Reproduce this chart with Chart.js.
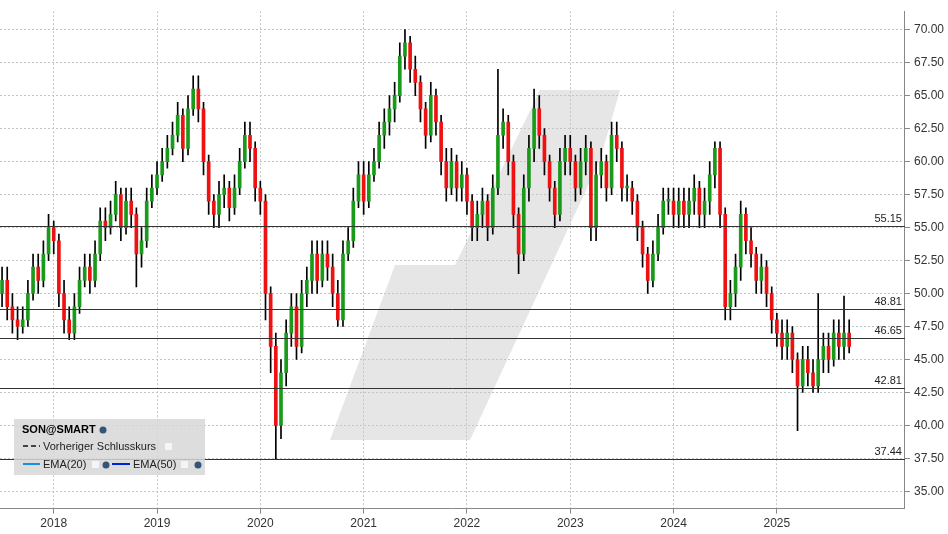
<!DOCTYPE html>
<html><head><meta charset="utf-8">
<script src="https://cdn.jsdelivr.net/npm/chart.js@4"></script>
<style>html,body{margin:0;padding:0;background:#fff}#w{width:948px;height:534px}</style>
</head><body><div id="w"><canvas id="c"></canvas></div>
<script>
const startYear = 2017.5, step = 0.05;
const closes = [51,49,48,47.5,48,50,52,51,53,55,54,50,48,47,49,51,52,51,53,55.5,55,56,57.5,55,57,56,53,54,57,58,59,60,61,62,63.5,61,64,65.5,64,60,57,56,57.5,58,56.5,58,60,62,61,58,57,50,46,40,44,47,49,46,50,51,53,51,53,52,50,48,53,54,57,59,57,59,60,62,63,64,65,68,69,67,66,64,62,65,63,60,58,60,58,59,57,55,56,57,55,58,62,63,60,56,53,58,61,64,62,60,58,56,60,61,60,58,60,61,55,59,60,58,62,61,58,58,57,55,53,51,53,55,57,57,56,57,56,57,58,56,57,59,61,56,49,50,52,56,54,53,51,52,50,48,47,46,47,45,43,45,44,43,45,46,45,47,46,47,46];
const opens = [50,51,49,48,47.5,48,50,52,51,53,55,54,50,48,47,49,51,52,51,53,55.5,55,56,57.5,55,57,56,53,54,57,58,59,60,61,62,63.5,61,64,65.5,64,60,57,56,57.5,58,56.5,58,60,62,61,58,57,50,46,40,44,47,49,46,50,51,53,51,53,52,50,48,53,54,57,59,57,59,60,62,63,64,65,68,69,67,66,64,62,65,63,60,58,60,58,59,57,55,56,57,55,58,62,63,60,56,53,58,61,64,62,60,58,56,60,61,60,58,60,61,55,59,60,58,62,61,58,58,57,55,53,51,53,55,57,57,56,57,56,57,58,56,57,59,61,56,49,50,52,56,54,53,51,52,50,48,47,46,47,45,43,45,44,43,45,46,45,47,46,47];
const highs = [52,52,50,49,49,51,53,53,54,56,55.5,54.5,51,49,50,52,53,53,54,56.5,56.5,57,58.5,58,58,58,56.5,55,58,59,60,61,62,63,64.5,64,65,66.5,66.5,64.5,60.5,57.5,58.5,59,58.5,59,61,63,63,61.5,58.5,57.5,50.5,47,45,48,50,50,51,52,54,54,54,54,53,51,54,55,58,60,60,60,61,63,64,65,66,69,70,69.5,68,66.5,64.5,66,65.5,63.5,61,61,60.5,60,59.5,57.5,57,58,57.5,59,67,64,63.5,60.5,56.5,59,62,65.5,65,62.5,60.5,58.5,61,62,62,60.5,61,62,61.5,60,61,60.5,63,63,61.5,59,58.5,57.5,55.5,53.5,54,56,58,58,58,58,58,58,59,58.5,58,60,61.5,61.5,56.5,51,53,57,56.5,55,53.5,53,52.5,50.5,48.5,48,48,47.5,45.5,46,46,45,50,47,47,48,48,49.8,48];
const lows = [49,48,47,46.5,47,47.5,49.5,50,50.5,52.5,53,49,47,46.5,46.5,48.5,50.5,50,50.5,52.5,54,54.5,55.5,54,54.5,55,50.5,52,53.5,56.5,57.5,58.5,59.5,60.5,61.5,60,60.5,63.5,63,59,56,55,55,56.5,55.5,56,57.5,59.5,60,57,56,48,44,37.4,39,43,46,45,45.5,49,50,50,50.5,51,49,47.5,47.5,52.5,53.5,56.5,56,56.5,58.5,59.5,61,62,63,64.5,67,66,65,63,61,61.5,62,59,57,57.5,57,57,56,54,54,55,54,54.5,57.5,61,59,55,51.5,52.5,57,60,61,59,57,55,55.5,59,59,57,57.5,59,54,54,58,57,57.5,60,57,57,56,54,52,50,50.5,52.5,54.5,56,55,55,55,55,56,55,55,56,58,55,48,48,49,51,53,52,50,50,49,47,46,45,45,44,39.6,42.5,43,42.5,42.5,44,44,44.5,45,45,45.5];
const levels = [55.15, 48.81, 46.65, 42.81, 37.44];
const years = [2018,2019,2020,2021,2022,2023,2024,2025];

const xs = closes.map((_, i) => startYear + i * step);
const up = closes.map((c, i) => c >= opens[i]);
const wick = xs.map((x, i) => ({x, y: [lows[i], highs[i]]}));
const body = xs.map((x, i) => ({x, y: [Math.min(opens[i], closes[i]), Math.max(opens[i], closes[i]) + (opens[i]===closes[i]?0.15:0)]}));

const deco = {
  id: 'deco',
  beforeDatasetsDraw(ch) {
    const {ctx} = ch;
    ctx.save();
    ctx.fillStyle = 'rgba(200,200,200,0.45)';
    ctx.beginPath();
    ctx.moveTo(540,90); ctx.lineTo(620,90); ctx.lineTo(600,160); ctx.lineTo(470,440); ctx.lineTo(330,440); ctx.lineTo(395,265); ctx.lineTo(455,265); ctx.closePath(); ctx.fill();
    ctx.restore();
  },
  afterDatasetsDraw(ch) {
    const {ctx, chartArea: a, scales: {y}} = ch;
    ctx.save();
    ctx.font = '11px "Liberation Sans", Arial';
    ctx.textAlign = 'right'; ctx.textBaseline = 'bottom';
    levels.forEach(v => {
      const py = Math.round(y.getPixelForValue(v)) + 0.5;
      ctx.strokeStyle = '#333'; ctx.lineWidth = 1;
      ctx.beginPath(); ctx.moveTo(a.left, py); ctx.lineTo(a.right, py); ctx.stroke();
      ctx.fillStyle = '#222'; ctx.fillText(v.toFixed(2), a.right - 3, py - 2);
    });
    ctx.fillStyle = 'rgba(215,215,215,0.85)';
    ctx.fillRect(14, 419, 191, 56);
    ctx.textAlign = 'left'; ctx.textBaseline = 'middle';
    ctx.fillStyle = '#000'; ctx.font = 'bold 11px "Liberation Sans", Arial';
    ctx.fillText('SON@SMART', 22, 430);
    ctx.font = '11px "Liberation Sans", Arial';
    ctx.fillStyle = '#222';
    ctx.fillText('Vorheriger Schlusskurs', 43, 447);
    ctx.fillText('EMA(20)', 43, 465);
    ctx.fillText('EMA(50)', 133, 465);
    ctx.strokeStyle = '#444'; ctx.lineWidth = 2; ctx.setLineDash([5,3]);
    ctx.beginPath(); ctx.moveTo(23,446); ctx.lineTo(40,446); ctx.stroke();
    ctx.setLineDash([]);
    ctx.strokeStyle = '#1a8fe0'; ctx.beginPath(); ctx.moveTo(23,464); ctx.lineTo(40,464); ctx.stroke();
    ctx.strokeStyle = '#0022dd'; ctx.beginPath(); ctx.moveTo(112,464); ctx.lineTo(130,464); ctx.stroke();
    ctx.fillStyle = '#f4f4fa';
    [[165,443],[92,461],[181,461]].forEach(([bx,by]) => { ctx.fillRect(bx,by,7,7); });
    ctx.fillStyle = '#335577';
    [[103,430],[106,465],[198,465]].forEach(([bx,by]) => { ctx.beginPath(); ctx.arc(bx,by,3.5,0,Math.PI*2); ctx.fill(); });
    ctx.restore();
  }
};

new Chart(document.getElementById('c'), {
  type: 'bar',
  data: { datasets: [
    { data: wick, backgroundColor: '#000', barThickness: 1, grouped: false, order: 2 },
    { data: body, backgroundColor: up.map(u => u ? '#1a9a1a' : '#ee1111'), barThickness: 3, grouped: false, order: 1 }
  ]},
  options: {
    animation: false, responsive: true, maintainAspectRatio: false,
    layout: { padding: { left: 0, top: 2, right: 0, bottom: 0 } },
    plugins: { legend: { display: false }, tooltip: { enabled: false } },
    scales: {
      x: { type: 'linear', min: 2017.48, max: 2025.76 + 0.48, offset: false,
        afterBuildTicks: s => { s.ticks = years.map(v => ({value: v})); },
        ticks: { color: '#333', font: { size: 12, family: '"Liberation Sans", Arial' }, callback: v => String(v), maxRotation: 0 },
        grid: { offset: false, color: '#c4c4c4', tickLength: 5, tickColor: '#888' },
        border: { color: '#888', dash: [2,2] } },
      y: { position: 'right', min: 33.7, max: 71.4,
        afterBuildTicks: s => { const t=[]; for (let v=35; v<=70; v+=2.5) t.push({value:v}); s.ticks=t; },
        ticks: { color: '#333', font: { size: 12, family: '"Liberation Sans", Arial' }, callback: v => Number(v).toFixed(2), padding: 4 },
        grid: { color: '#c4c4c4', tickLength: 5, tickColor: '#888' },
        border: { color: '#888', dash: [2,2] } }
    }
  },
  plugins: [deco]
});
</script></body></html>
